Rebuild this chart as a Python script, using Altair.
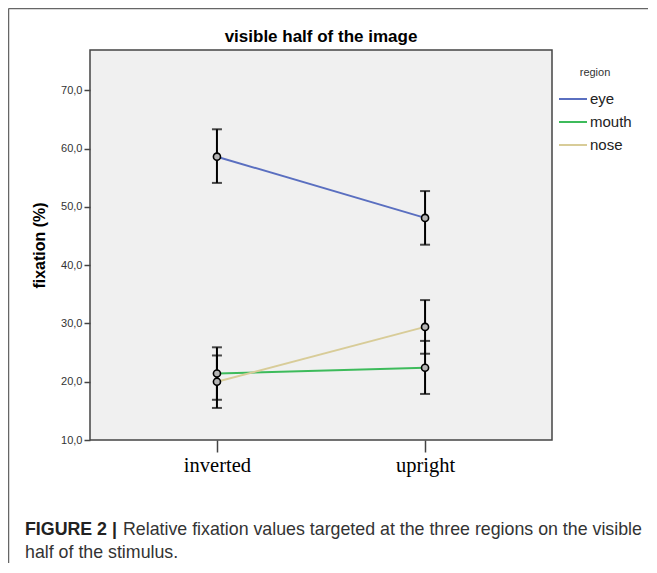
import altair as alt
import pandas as pd

conditions = ["inverted", "upright"]
regions = ["eye", "mouth", "nose"]
eye_mean = [58.6, 48.1]
eye_lo = [54.1, 43.5]
eye_hi = [63.3, 52.7]
mouth_mean = [21.4, 22.4]
mouth_lo = [16.9, 17.9]
mouth_hi = [25.9, 27.0]
nose_mean = [20.0, 29.4]
nose_lo = [15.5, 24.8]
nose_hi = [24.5, 34.0]
y_ticks = [10, 20, 30, 40, 50, 60, 70]
colors = ["#5a6fc0", "#3dbb5b", "#d8cc98"]
title_text = ["visible half of the image"]
caption_bold = ["FIGURE 2 |"]
caption_line1 = ["Relative fixation values targeted at the three regions on the visible"]
caption_line2 = ["half of the stimulus."]

rows = []
for reg, m, lo, hi in [("eye", eye_mean, eye_lo, eye_hi),
                       ("mouth", mouth_mean, mouth_lo, mouth_hi),
                       ("nose", nose_mean, nose_lo, nose_hi)]:
    for c, a, b, d in zip(conditions, m, lo, hi):
        rows.append({"condition": c, "region": reg, "mean": a, "lo": b, "hi": d})
df = pd.DataFrame(rows)

x_enc = alt.X("condition:N", sort=conditions,
              scale=alt.Scale(type="point", padding=0.61),
              axis=alt.Axis(title=None, labelFont="Liberation Serif", labelFontSize=20.5,
                            labelColor="black", labelAngle=0, tickSize=12, tickWidth=1.5,
                            tickColor="#444", domain=False, labelPadding=3))
y_scale = alt.Scale(domain=[10, 76.9], nice=False, zero=False)
y_enc = alt.Y("mean:Q", scale=y_scale,
              axis=alt.Axis(values=y_ticks,
                            labelExpr="replace(format(datum.value, '.1f'), '.', ',')",
                            title="fixation (%)", titleFont="Liberation Sans", titleFontSize=16,
                            titleFontWeight="bold", titleColor="black", titlePadding=13,
                            labelFont="Liberation Sans", labelFontSize=11, labelColor="#333",
                            tickSize=6, tickWidth=1.5, tickColor="#444", domain=False, grid=False,
                            labelPadding=2))

base = alt.Chart(df)
lines = base.mark_line(strokeWidth=2).encode(
    x=x_enc, y=y_enc,
    color=alt.Color("region:N", scale=alt.Scale(domain=regions, range=colors),
                    legend=alt.Legend(title="region", orient="none", legendX=468, legendY=17,
                                      symbolType="stroke", symbolSize=784, symbolStrokeWidth=2,
                                      titleFontSize=11, titleFontWeight="normal", titleColor="#333",
                                      titleFont="Liberation Sans", titleAnchor="middle",
                                      titlePadding=6, labelFont="Liberation Sans",
                                      labelFontSize=15, labelColor="#222", labelOffset=2,
                                      rowPadding=-5.5)),
    detail="region:N")
rules = base.mark_rule(color="black", strokeWidth=2).encode(
    x=alt.X("condition:N", sort=conditions), y=alt.Y("lo:Q", scale=y_scale), y2="hi:Q")
caps_lo = base.mark_tick(color="black", thickness=2, size=10, orient="horizontal").encode(
    x=alt.X("condition:N", sort=conditions), y=alt.Y("lo:Q", scale=y_scale))
caps_hi = base.mark_tick(color="black", thickness=2, size=10, orient="horizontal").encode(
    x=alt.X("condition:N", sort=conditions), y=alt.Y("hi:Q", scale=y_scale))
points = base.mark_circle(size=50, color="#b5b5b5", opacity=1, stroke="black", strokeWidth=1.6).encode(
    x=alt.X("condition:N", sort=conditions), y=alt.Y("mean:Q", scale=y_scale))

one = pd.DataFrame({"k": [0]})
frame_left = alt.Chart(one).mark_rule(color="#666", strokeWidth=1.5).encode(
    x=alt.value(-81.5), y=alt.value(-41.5), y2=alt.value(515))
frame_top = alt.Chart(one).mark_rule(color="#666", strokeWidth=1.5).encode(
    x=alt.value(-81.5), x2=alt.value(560), y=alt.value(-41.5))

title = alt.Chart(pd.DataFrame({"t": title_text})).mark_text(
    align="center", baseline="middle", font="Liberation Sans", fontSize=17, fontWeight="bold",
    color="black").encode(text="t:N", x=alt.value(231), y=alt.value(-13))
cap_bold = alt.Chart(pd.DataFrame({"t": caption_bold})).mark_text(
    align="left", baseline="alphabetic", font="Liberation Sans", fontSize=17.8, fontWeight="bold",
    color="#222").encode(text="t:N", x=alt.value(-65), y=alt.value(485))
cap_rest = alt.Chart(pd.DataFrame({"t": caption_line1})).mark_text(
    align="left", baseline="alphabetic", font="Liberation Sans", fontSize=17.8, color="#333").encode(
    text="t:N", x=alt.value(33), y=alt.value(485))
cap_line2 = alt.Chart(pd.DataFrame({"t": caption_line2})).mark_text(
    align="left", baseline="alphabetic", font="Liberation Sans", fontSize=17.8, color="#333").encode(
    text="t:N", x=alt.value(-65), y=alt.value(508))

chart = alt.layer(frame_left, frame_top, lines, rules, caps_lo, caps_hi, points,
                  title, cap_bold, cap_rest, cap_line2).properties(
    width=462, height=390,
    autosize=alt.AutoSizeParams(type="none"),
    padding={"left": 82, "top": 42, "right": 96, "bottom": 123},
    background="white",
).configure_view(fill="#f0f0f0", stroke="#444", strokeWidth=1.5)

chart.save("out.html", embed_options={"renderer": "svg", "actions": False})
